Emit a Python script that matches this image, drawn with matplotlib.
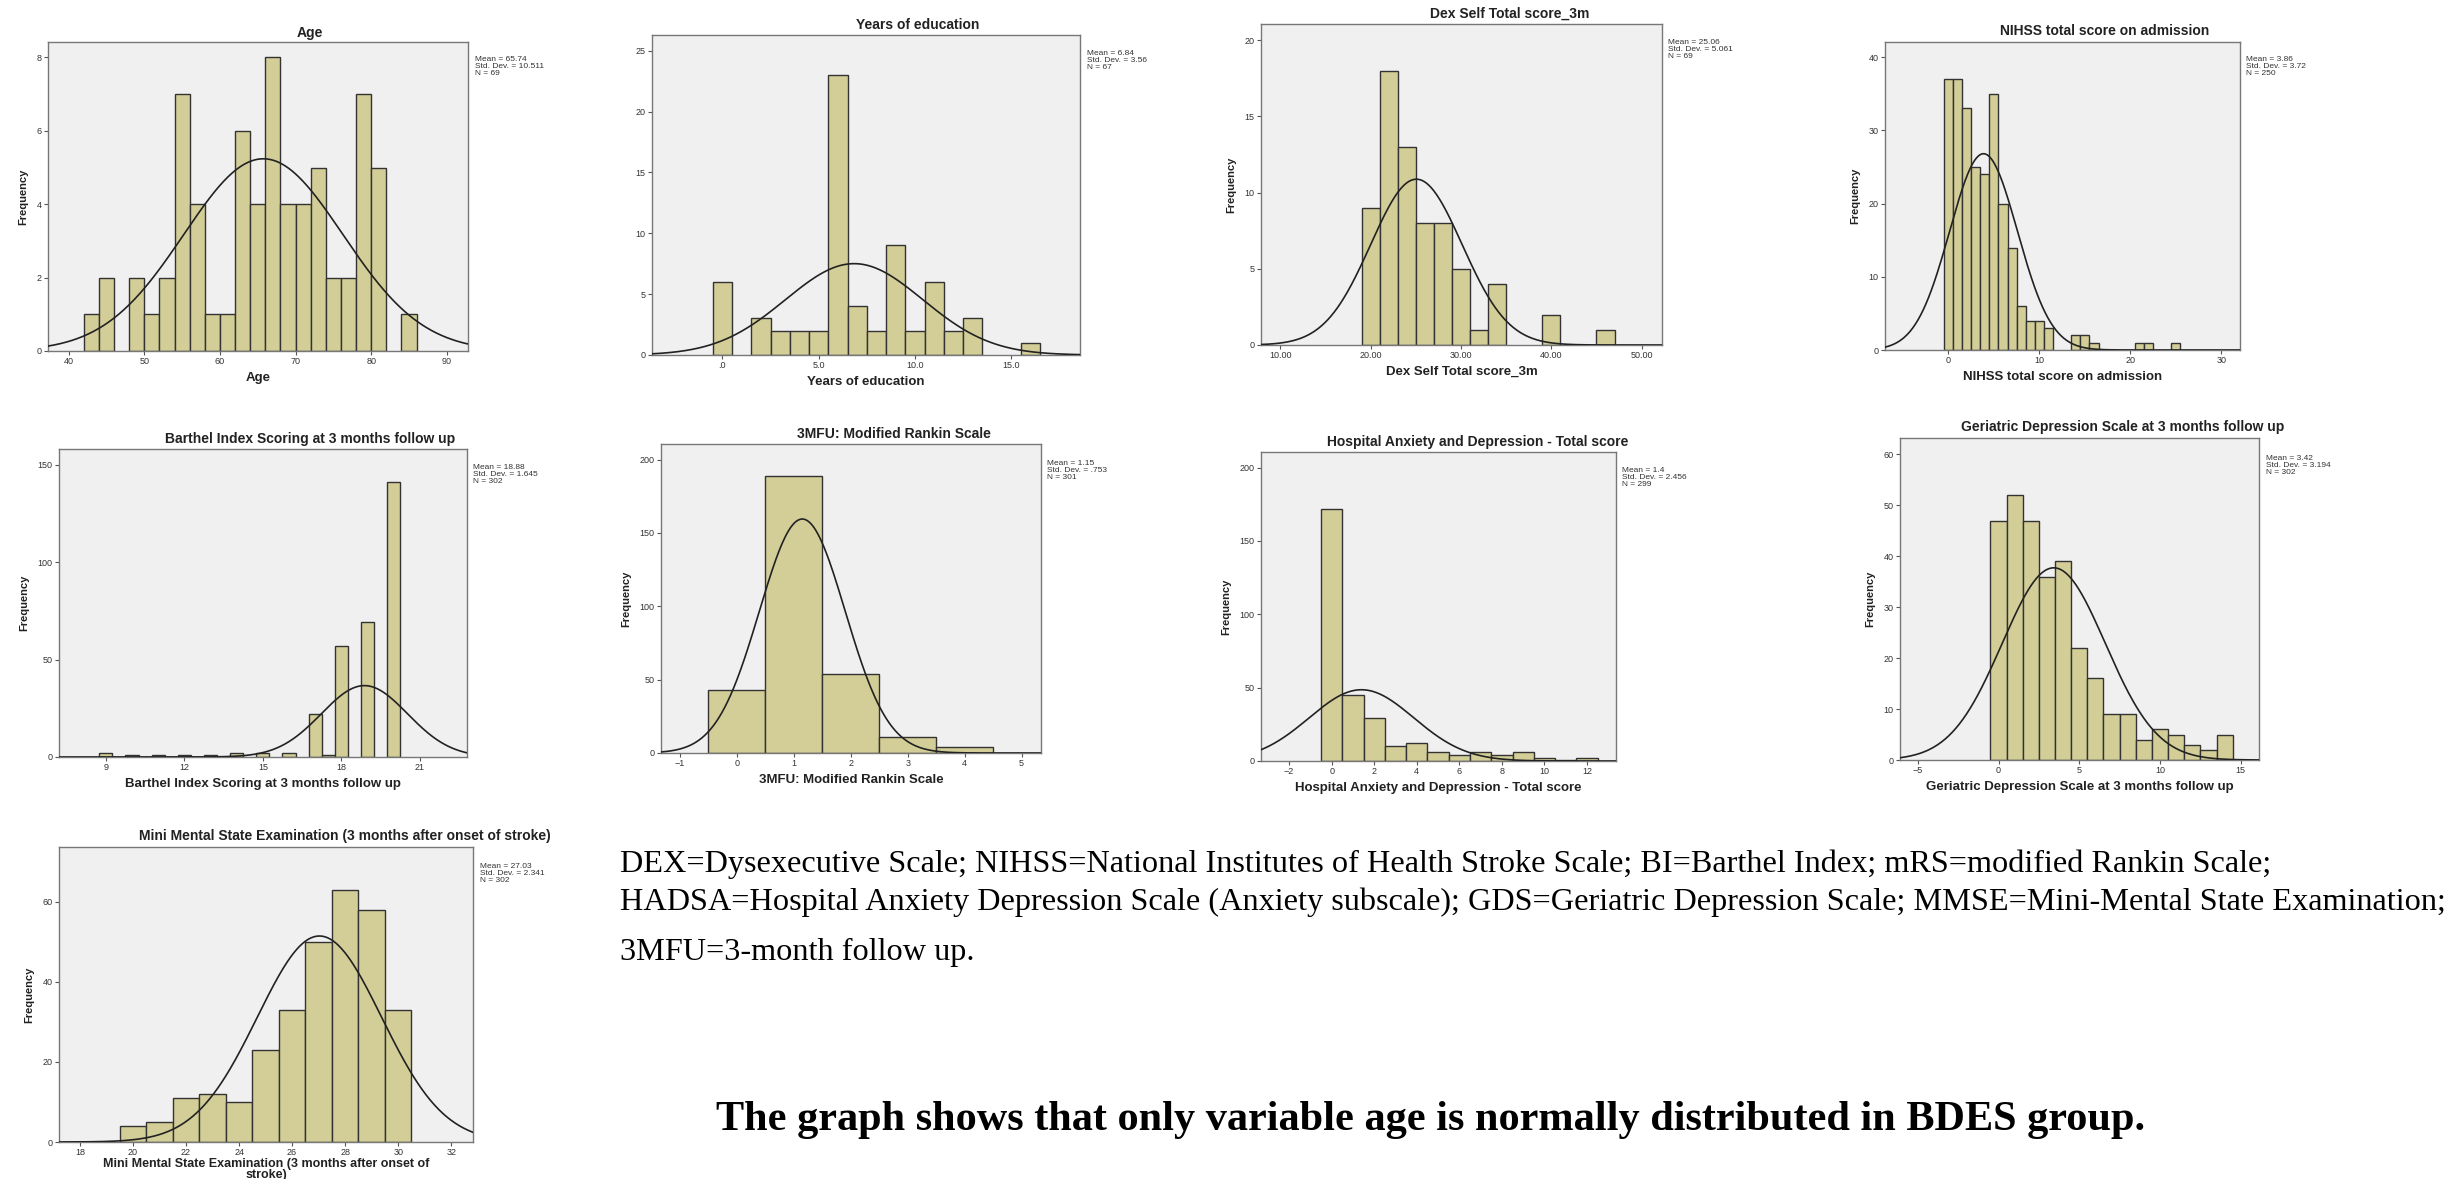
import numpy as np
import matplotlib
matplotlib.use('Agg')
import matplotlib.pyplot as plt

plt.rcParams['font.family'] = ['Liberation Sans', 'DejaVu Sans']

# data (bin centres, counts)
age_bins = [43, 45, 47, 49, 51, 53, 55, 57, 59, 61, 63, 65, 67, 69, 71, 73, 75, 77, 79, 81, 83, 85]
age_counts = [1, 2, 0, 2, 1, 2, 7, 4, 1, 1, 6, 4, 8, 4, 4, 5, 2, 2, 7, 5, 0, 1]

edu_bins = [0, 1, 2, 3, 4, 5, 6, 7, 8, 9, 10, 11, 12, 13, 14, 15, 16]
edu_counts = [6, 0, 3, 2, 2, 2, 23, 4, 2, 9, 2, 6, 2, 3, 0, 0, 1]

dex_bins = [20, 22, 24, 26, 28, 30, 32, 34, 36, 38, 40, 42, 44, 46]
dex_counts = [9, 18, 13, 8, 8, 5, 1, 4, 0, 0, 2, 0, 0, 1]

nihss_bins = list(range(0, 26))
nihss_counts = [37, 37, 33, 25, 24, 35, 20, 14, 6, 4, 4, 3, 0, 0, 2, 2, 1, 0, 0, 0, 0, 1, 1, 0, 0, 1]

bi_bins = [9, 10, 11, 12, 13, 14, 15, 16, 17, 17.5, 18, 19, 20]
bi_counts = [2, 1, 1, 1, 1, 2, 2, 2, 22, 1, 57, 69, 141]

mrs_bins = [0, 1, 2, 3, 4]
mrs_counts = [43, 189, 54, 11, 4]

hads_bins = list(range(0, 13))
hads_counts = [172, 45, 29, 10, 12, 6, 4, 6, 4, 6, 2, 1, 2]

gds_bins = list(range(0, 15))
gds_counts = [47, 52, 47, 36, 39, 22, 16, 9, 9, 4, 6, 5, 3, 2, 5]

mmse_bins = list(range(20, 31))
mmse_counts = [4, 5, 11, 12, 10, 23, 33, 50, 63, 58, 33]

# summary stats printed by SPSS (mean, sd, n, printed mean, printed sd)
age_stats = (65.74, 10.511, 69, '65.74', '10.511')
edu_stats = (6.84, 3.56, 67, '6.84', '3.56')
dex_stats = (25.06, 5.061, 69, '25.06', '5.061')
nihss_stats = (3.86, 3.72, 250, '3.86', '3.72')
bi_stats = (18.88, 1.645, 302, '18.88', '1.645')
mrs_stats = (1.15, 0.753, 301, '1.15', '.753')
hads_stats = (1.4, 2.456, 299, '1.4', '2.456')
gds_stats = (3.42, 3.194, 302, '3.42', '3.194')
mmse_stats = (27.03, 2.341, 302, '27.03', '2.341')

W, H = 2450, 1179
fig = plt.figure(figsize=(W / 100, H / 100), dpi=100)

fill = '#d3ce97'
face = '#f0f0f0'


def px(x, y):
    return x / W, 1 - y / H


def panel(box, title, tpos, spos, xlabel, bins, counts, width, stats,
          xlim, ylim, xticks, yticks, xticklabels=None, ylab=True, xlpad=4, xlspace=1.2, xlsize=9.5):
    x0, y0, x1, y1 = box
    ax = fig.add_axes([x0 / W, 1 - y1 / H, (x1 - x0) / W, (y1 - y0) / H])
    ax.set_facecolor(face)
    b = [c for c, n in zip(bins, counts) if n > 0]
    n = [n for n in counts if n > 0]
    ax.bar(b, n, width=width, color=fill, edgecolor='#333333', linewidth=1.0, zorder=2)
    mu, sd, N = stats[0], stats[1], stats[2]
    xs = np.linspace(xlim[0], xlim[1], 400)
    ys = N * width / (sd * np.sqrt(2 * np.pi)) * np.exp(-0.5 * ((xs - mu) / sd) ** 2)
    ax.plot(xs, ys, color='#222222', lw=1.2, zorder=3)
    ax.set_xlim(*xlim)
    ax.set_ylim(*ylim)
    ax.set_xticks(xticks)
    if xticklabels is not None:
        ax.set_xticklabels(xticklabels)
    ax.set_yticks(yticks)
    ax.tick_params(labelsize=6.5, length=3, width=0.8, color='#555555', labelcolor='#333333', pad=1.5)
    for s in ax.spines.values():
        s.set_color('#777777')
        s.set_linewidth(1.0)
    ax.set_xlabel(xlabel, fontsize=xlsize, fontweight='bold', labelpad=xlpad, color='#222222',
                  linespacing=xlspace)
    if ylab:
        ax.set_ylabel('Frequency', fontsize=8, fontweight='bold', labelpad=6, color='#222222')
    fx, fy = px(*tpos)
    fig.text(fx, fy, title, ha='center', va='center', fontsize=10, fontweight='bold', color='#222222')
    sx, sy = px(*spos)
    fig.text(sx, sy, 'Mean = %s\nStd. Dev. = %s\nN = %d' % (stats[3], stats[4], N),
             ha='left', va='top', fontsize=6, color='#333333', linespacing=1.0)
    return ax


panel((48, 42, 468, 351), 'Age', (310, 33), (475, 56), 'Age', age_bins, age_counts, 2, age_stats,
      (37.27, 92.8), (0, 8.42), range(40, 91, 10), range(0, 9, 2))
panel((652, 35, 1080, 355), 'Years of education', (918, 25), (1087, 50), 'Years of education',
      edu_bins, edu_counts, 1, edu_stats, (-3.65, 18.56), (0, 26.3), [0, 5, 10, 15], range(0, 26, 5),
      xticklabels=['.0', '5.0', '10.0', '15.0'], ylab=False)
panel((1261, 24, 1662, 345), 'Dex Self Total score_3m', (1510, 14), (1668, 39), 'Dex Self Total score_3m',
      dex_bins, dex_counts, 2, dex_stats, (7.85, 52.26), (0, 21.06), range(10, 51, 10), range(0, 21, 5),
      xticklabels=['10.00', '20.00', '30.00', '40.00', '50.00'])
panel((1885, 42, 2240, 350), 'NIHSS total score on admission', (2105, 31), (2246, 56),
      'NIHSS total score on admission', nihss_bins, nihss_counts, 1, nihss_stats,
      (-6.97, 32.05), (0, 42.07), range(0, 31, 10), range(0, 41, 10))
panel((59, 449, 467, 757), 'Barthel Index Scoring at 3 months follow up', (310, 439), (473, 464),
      'Barthel Index Scoring at 3 months follow up', bi_bins, bi_counts, 0.5, bi_stats,
      (7.21, 22.8), (0, 158), [9, 12, 15, 18, 21], [0, 50, 100, 150])
panel((661, 444, 1041, 753), '3MFU: Modified Rankin Scale', (894, 434), (1047, 460),
      '3MFU: Modified Rankin Scale', mrs_bins, mrs_counts, 1, mrs_stats,
      (-1.33, 5.34), (0, 210.6), range(-1, 6), range(0, 201, 50))
panel((1261, 452, 1616, 761), 'Hospital Anxiety and Depression - Total score', (1478, 442), (1622, 467),
      'Hospital Anxiety and Depression - Total score', hads_bins, hads_counts, 1, hads_stats,
      (-3.32, 13.36), (0, 210.6), range(-2, 13, 2), range(0, 201, 50))
panel((1900, 438, 2259, 760), 'Geriatric Depression Scale at 3 months follow up', (2123, 427), (2266, 455),
      'Geriatric Depression Scale at 3 months follow up', gds_bins, gds_counts, 1, gds_stats,
      (-6.1, 16.13), (0, 63.2), range(-5, 16, 5), range(0, 61, 10))
panel((59, 847, 473, 1142), 'Mini Mental State Examination (3 months after onset of stroke)', (345, 836),
      (480, 863), 'Mini Mental State Examination (3 months after onset of\nstroke)', mmse_bins, mmse_counts,
      1, mmse_stats, (17.21, 32.82), (0, 73.7), range(18, 33, 2), range(0, 61, 20),
      xlpad=0.5, xlspace=0.85, xlsize=9)

notes = ['DEX=Dysexecutive Scale; NIHSS=National Institutes of Health Stroke Scale; BI=Barthel Index; mRS=modified Rankin Scale;',
         'HADSA=Hospital Anxiety Depression Scale (Anxiety subscale); GDS=Geriatric Depression Scale; MMSE=Mini-Mental State Examination;',
         '3MFU=3-month follow up.']
for line, y in zip(notes, [864, 902, 952]):
    fig.text(620 / W, 1 - y / H, line, ha='left', va='center', fontsize=23.2, family='Liberation Serif')
fig.text(716 / W, 1 - 1120 / H, 'The graph shows that only variable age is normally distributed in BDES group.',
         ha='left', va='center', fontsize=30.4, fontweight='bold', family='Liberation Serif')

fig.savefig('out.png', dpi=100)
